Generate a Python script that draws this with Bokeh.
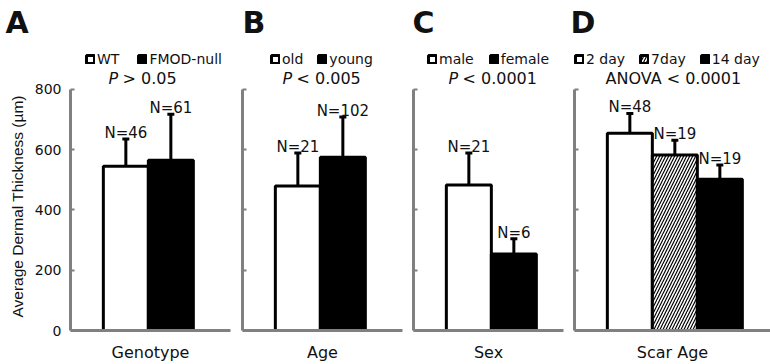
from bokeh.plotting import figure
from bokeh.layouts import row
from bokeh.models import (ColumnDataSource, Range1d, FixedTicker, Whisker, TeeHead,
                          Label, Legend, LegendItem, Title)
from bokeh.core.properties import value
from bokeh.embed import file_html
from bokeh.resources import INLINE

# ---------------- data ----------------
genotype_groups = ["WT", "FMOD-null"]
genotype_mean = [545, 565]
genotype_sd = [90, 152]
genotype_n = [46, 61]

age_groups = ["old", "young"]
age_mean = [479, 575]
age_sd = [110, 133]
age_n = [21, 102]

sex_groups = ["male", "female"]
sex_mean = [483, 254]
sex_sd = [106, 50]
sex_n = [21, 6]

scar_groups = ["2 day", "7day", "14 day"]
scar_mean = [654, 582, 502]
scar_sd = [66, 49, 47]
scar_n = [48, 19, 19]

y_ticks = [0, 200, 400, 600, 800]
y_label = "Average Dermal Thickness (µm)"

# ---------------- style / layout ----------------
FONT = "DejaVu Sans"
AXIS_GREY = "#808080"
TXT = "#111111"
H = 364
BORDER_TOP = 40
BORDER_BOTTOM = 33
FRAME_H = H - BORDER_TOP - BORDER_BOTTOM
PX_PER_UNIT = 242 / 800.0
Y_TOP = FRAME_H / PX_PER_UNIT      # y range shown (axis itself bounded to 0..800)
BAR_PX = 45                        # pixels per x unit (one bar)
X0 = -0.23
PAGE_FRAME_BOTTOM = H - BORDER_BOTTOM


def y_at(page_y):
    return (PAGE_FRAME_BOTTOM - page_y) / PX_PER_UNIT


def make_panel(letter, letter_offset, xlabel, groups, means, sds, ns, fills, hatches,
               width, bl, br, frame_left_page, legend_x, legend_spacing,
               p_text, p_rest, p_page_x, first):
    frame_w = width - bl - br

    def x_at(page_x):
        return X0 + (page_x - frame_left_page) / BAR_PX

    p = figure(width=width, height=H, title=None,
               x_range=Range1d(X0, X0 + frame_w / BAR_PX), y_range=Range1d(0, Y_TOP),
               output_backend="svg", toolbar_location=None,
               min_border_left=bl, min_border_right=br, min_border_top=BORDER_TOP,
               min_border_bottom=BORDER_BOTTOM)
    p.outline_line_color = None
    p.xgrid.visible = False
    p.ygrid.visible = False
    p.background_fill_color = "white"
    p.border_fill_color = "white"

    # panel letter as title
    p.add_layout(Title(text=letter, align="left", offset=letter_offset, standoff=2,
                       text_font=FONT, text_font_size="30px", text_font_style="bold",
                       text_color=TXT), "above")

    xs = [1 + i for i in range(len(groups))]
    src = ColumnDataSource(dict(
        x=xs, top=means, upper=[m + s for m, s in zip(means, sds)],
        fill=fills, hatch=hatches, label=[f"N={n}" for n in ns]))

    r = p.vbar(x="x", top="top", bottom=0, width=1, source=src,
               fill_color="fill", line_color="black", line_width=3,
               hatch_pattern="hatch", hatch_color="black", hatch_scale=6,
               hatch_weight=1.2)

    w = Whisker(source=src, base="x", lower="top", upper="upper", dimension="height",
                line_color="black", line_width=3, lower_head=None,
                upper_head=TeeHead(size=7, line_width=3, line_color="black"))
    p.add_layout(w)

    p.text(x="x", y="upper", text="label", source=src, text_align="center",
           text_baseline="alphabetic", y_offset=-6, text_font=value(FONT),
           text_font_size="15px", text_color=TXT)

    # y axis
    ya = p.yaxis[0]
    ya.bounds = (0, 800)
    ya.ticker = FixedTicker(ticks=y_ticks)
    ya.axis_line_color = AXIS_GREY
    ya.axis_line_width = 3
    ya.major_tick_line_color = AXIS_GREY
    ya.major_tick_line_width = 2
    ya.major_tick_in = 4
    ya.major_tick_out = 0
    ya.minor_tick_line_color = None
    if first:
        ya.major_label_text_font = FONT
        ya.major_label_text_font_size = "14px"
        ya.major_label_text_color = TXT
        ya.major_label_standoff = 9
        # y axis title, placed along the 0..800 span of the axis
        p.add_layout(Title(text=y_label, align="left", offset=13, standoff=12,
                           text_font="Liberation Sans", text_font_size="15.5px",
                           text_font_style="normal", text_color=TXT), "left")
    else:
        ya.major_label_overrides = {t: "" for t in y_ticks}
        ya.major_label_standoff = 0

    # x axis
    xa = p.xaxis[0]
    xa.ticker = FixedTicker(ticks=[])
    xa.axis_line_color = AXIS_GREY
    xa.axis_line_width = 3
    xa.major_tick_line_color = None
    xa.minor_tick_line_color = None
    xa.axis_label = xlabel
    xa.axis_label_text_font = FONT
    xa.axis_label_text_font_size = "16px"
    xa.axis_label_text_font_style = "normal"
    xa.axis_label_text_color = TXT
    xa.axis_label_standoff = 12

    # legend
    items = [LegendItem(label=g, renderers=[r], index=i) for i, g in enumerate(groups)]
    leg = Legend(items=items, orientation="horizontal", location=(legend_x, 263),
                 padding=0, margin=0, spacing=legend_spacing, glyph_width=10,
                 glyph_height=10, label_standoff=2, label_height=16,
                 label_text_font=FONT, label_text_font_size="14px",
                 label_text_color=TXT, border_line_color=None,
                 background_fill_alpha=0)
    p.add_layout(leg)

    # p-value text
    if p_rest is None:
        p.add_layout(Label(x=x_at(p_page_x), y=y_at(88), text=p_text,
                           text_font=FONT, text_font_size="16px", text_color=TXT))
    else:
        p.add_layout(Label(x=x_at(p_page_x), y=y_at(88), text=p_text,
                           text_font=FONT, text_font_size="16px",
                           text_font_style="italic", text_color=TXT))
        p.add_layout(Label(x=x_at(p_page_x + 10), y=y_at(88), text=p_rest,
                           x_offset=4, text_font=FONT, text_font_size="16px",
                           text_color=TXT))
    return p


pa = make_panel("A", -65, "Genotype", genotype_groups, genotype_mean, genotype_sd, genotype_n,
                ["white", "black"], [" ", " "], 236, 70, 6, 70, 15, 18,
                "P", "> 0.05", 108, True)
pb = make_panel("B", 0, "Age", age_groups, age_mean, age_sd, age_n,
                ["white", "black"], [" ", " "], 170, 6, 4, 242, 28, 14,
                "P", "< 0.005", 282, False)
pc = make_panel("C", -1, "Sex", sex_groups, sex_mean, sex_sd, sex_n,
                ["white", "black"], [" ", " "], 161, 7, 4, 413, 14, 15,
                "P", "< 0.0001", 448, False)
pd_ = make_panel("D", -4, "Scar Age", scar_groups, scar_mean, scar_sd, scar_n,
                 ["white", "white", "black"], [" ", "/", " "], 203, 7, 0, 574, 0, 14,
                 "ANOVA < 0.0001", None, 605, False)

layout = row(pa, pb, pc, pd_, spacing=0)
open("out.html", "w").write(file_html(layout, INLINE))
